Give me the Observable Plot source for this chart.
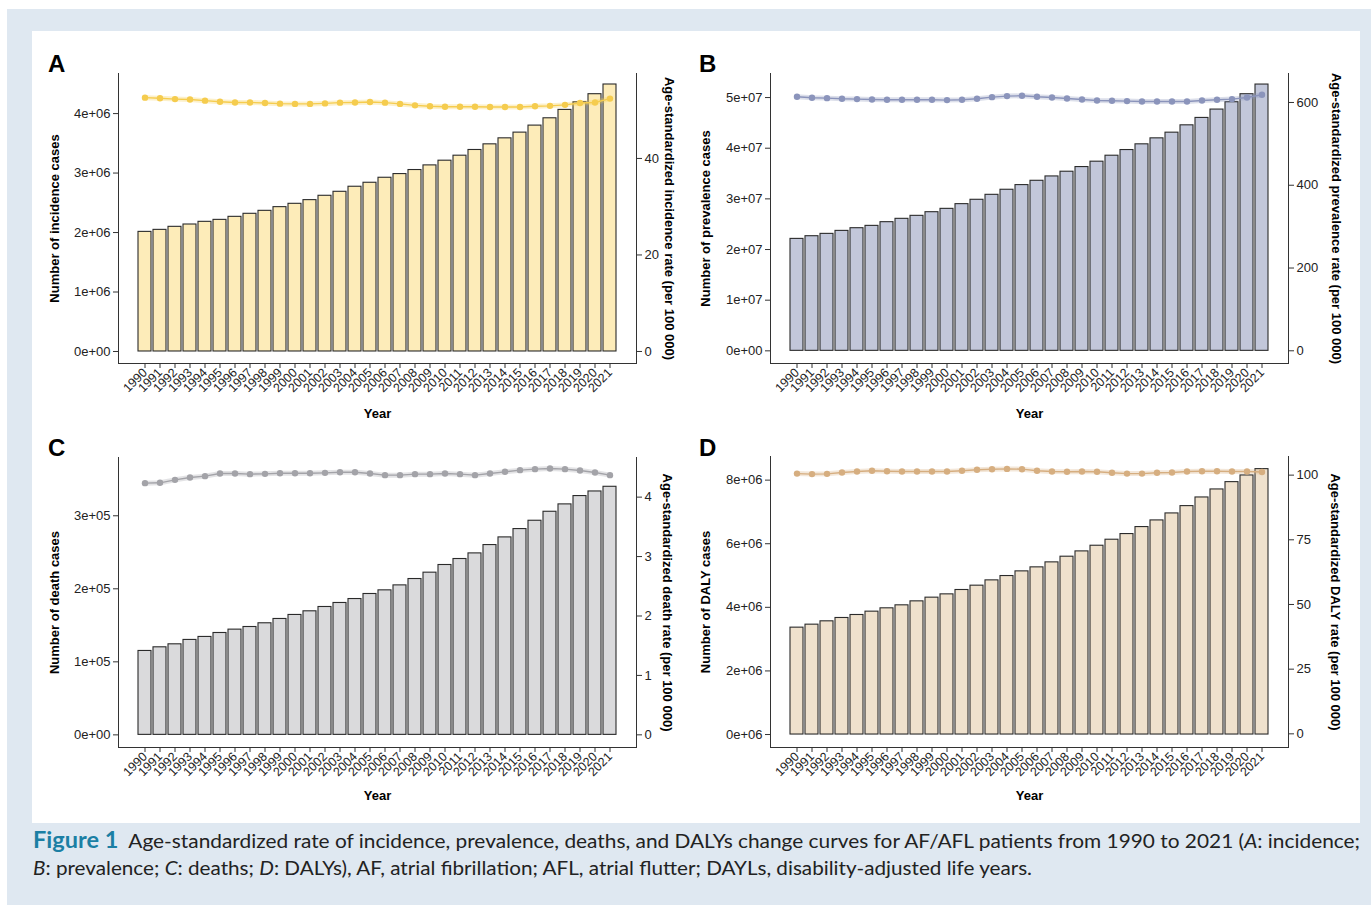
<!DOCTYPE html>
<html><head><meta charset="utf-8">
<script src="https://cdn.jsdelivr.net/npm/d3@7"></script>
<script src="https://cdn.jsdelivr.net/npm/@observablehq/plot@0.6"></script>
<style>
html,body{margin:0;padding:0;background:#fff;}
#page{position:relative;width:1371px;height:905px;background:#fff;overflow:hidden;}
#bg{position:absolute;left:7px;top:9px;width:1364px;height:896px;background:#dfe8f1;}
#panel{position:absolute;left:32px;top:31px;width:1328px;height:792px;background:#fff;}
.p{position:absolute;}
.lab{position:absolute;font:bold 24px "Liberation Sans",Arial,sans-serif;line-height:24px;color:#000;}
.cap{position:absolute;left:33px;white-space:nowrap;font:19.5px Lato,"Open Sans",sans-serif;color:#222;transform-origin:0 0;}
.cap b{color:#1b7fa4;font-size:22px;}
</style>
</head><body>
<div id="page">
  <div id="bg"></div>
  <div id="panel"></div>
  <div class="lab" style="left:48px;top:52px">A</div>
  <div class="lab" style="left:699px;top:52px">B</div>
  <div class="lab" style="left:48px;top:436px">C</div>
  <div class="lab" style="left:699px;top:436px">D</div>
  <div id="cap1" class="cap" style="top:826px"><b>Figure 1</b>&nbsp; Age-standardized rate of incidence, prevalence, deaths, and DALYs change curves for AF/AFL patients from 1990 to 2021 (<i>A</i>: incidence;</div>
  <div id="cap2" class="cap" style="top:856px"><i>B</i>: prevalence; <i>C</i>: deaths; <i>D</i>: DALYs), AF, atrial fibrillation; AFL, atrial flutter; DAYLs, disability-adjusted life years.</div>
</div>
<script>
const years = ["1990","1991","1992","1993","1994","1995","1996","1997","1998","1999","2000","2001","2002","2003","2004","2005","2006","2007","2008","2009","2010","2011","2012","2013","2014","2015","2016","2017","2018","2019","2020","2021"];

const incidenceCases = [2011000,2045000,2096000,2135000,2180000,2213000,2264000,2315000,2365000,2427000,2483000,2545000,2618000,2685000,2770000,2837000,2921000,2983000,3051000,3129000,3208000,3292000,3388000,3483000,3584000,3680000,3798000,3921000,4062000,4190000,4326000,4489000];
const incidenceRate = [52.6,52.46,52.3,52.2,51.97,51.76,51.6,51.6,51.5,51.35,51.3,51.3,51.4,51.56,51.6,51.7,51.56,51.3,51.0,50.8,50.7,50.7,50.7,50.66,50.66,50.66,50.8,50.9,51.1,51.5,51.6,52.4];

const prevalenceCases = [22100000,22630000,23090000,23680000,24210000,24670000,25400000,26060000,26650000,27370000,28030000,28960000,29820000,30800000,31800000,32720000,33570000,34430000,35360000,36280000,37340000,38520000,39640000,40770000,41950000,43070000,44520000,45980000,47630000,49080000,50660000,52570000];
const prevalenceRate = [613.7,611.3,610.5,608.9,608.1,607.3,606.5,606.5,606.5,606.5,605.7,606.5,608.9,612.9,615.4,616.2,613.7,612.1,609.7,607.3,604.9,604.1,603.3,602.4,602.4,602.4,602.4,604.9,606.5,608.1,612.1,618.6];

const deathCases = [114900,119900,124000,130000,134100,139500,144100,147700,152800,158700,164200,169200,175100,180600,186000,192900,197900,204700,213400,222100,232600,240800,248500,259900,270400,281800,293200,305500,315600,327000,333300,339700];
const deathRate = [4.235,4.241,4.291,4.331,4.353,4.398,4.398,4.387,4.392,4.403,4.403,4.403,4.409,4.42,4.42,4.398,4.37,4.37,4.387,4.387,4.398,4.387,4.37,4.398,4.426,4.454,4.471,4.482,4.471,4.448,4.415,4.37];

const dalyCases = [3361000,3455000,3560000,3665000,3759000,3864000,3969000,4063000,4188000,4304000,4408000,4545000,4681000,4848000,4984000,5131000,5257000,5414000,5592000,5759000,5937000,6126000,6304000,6524000,6733000,6953000,7183000,7455000,7707000,7937000,8147000,8346000];
const dalyRate = [100.6,100.4,100.5,101.0,101.4,101.7,101.5,101.4,101.4,101.4,101.4,101.7,102.1,102.3,102.4,102.3,101.7,101.4,101.3,101.4,101.3,100.9,100.6,100.6,100.9,101.0,101.4,101.5,101.5,101.4,101.4,101.2];

const ticksA = [0,1e6,2e6,3e6,4e6], labelsA = ["0e+00","1e+06","2e+06","3e+06","4e+06"];
const rTicksA = [0,20,40], rLabelsA = ["0","20","40"];
const ticksB = [0,1e7,2e7,3e7,4e7,5e7], labelsB = ["0e+00","1e+07","2e+07","3e+07","4e+07","5e+07"];
const rTicksB = [0,200,400,600], rLabelsB = ["0","200","400","600"];
const ticksC = [0,1e5,2e5,3e5], labelsC = ["0e+00","1e+05","2e+05","3e+05"];
const rTicksC = [0,1,2,3,4], rLabelsC = ["0","1","2","3","4"];
const ticksD = [0,2e6,4e6,6e6,8e6], labelsD = ["0e+06","2e+06","4e+06","6e+06","8e+06"];
const rTicksD = [0,25,50,75,100], rLabelsD = ["0","25","50","75","100"];

const panels = [
  {left:30, top:50, mL:88, mR:54, mT:23, mB:67, cases:incidenceCases, rate:incidenceRate,
   L:[-202000,4674000], R:[-2.49,57.6], ticks:ticksA, labels:labelsA, rTicks:rTicksA, rLabels:rLabelsA,
   fill:"#fdecb9", color:"#f5cc4e", yLabel:"Number of incidence cases", rLabel:"Age-standardized incidence rate (per 100 000)", ldx:-64, rdx:33, ydy:54},
  {left:690, top:50, mL:80, mR:62, mT:23, mB:67, cases:prevalenceCases, rate:prevalenceRate,
   L:[-2500000,54750000], R:[-30.7,670], ticks:ticksB, labels:labelsB, rTicks:rTicksB, rLabels:rLabelsB,
   fill:"#c2c7da", color:"#8b94bb", yLabel:"Number of prevalence cases", rLabel:"Age-standardized prevalence rate (per 100 000)", ldx:-65, rdx:48, ydy:54},
  {left:30, top:434, mL:88, mR:54, mT:23, mB:67, cases:deathCases, rate:deathRate,
   L:[-17300,379800], R:[-0.213,4.667], ticks:ticksC, labels:labelsC, rTicks:rTicksC, rLabels:rLabelsC,
   fill:"#dadadc", color:"#a3a3a8", yLabel:"Number of death cases", rLabel:"Age-standardized death rate (per 100 000)", ldx:-64, rdx:31, ydy:52},
  {left:690, top:434, mL:80, mR:62, mT:22, mB:67, cases:dalyCases, rate:dalyRate,
   L:[-408000,8743000], R:[-5.28,107.2], ticks:ticksD, labels:labelsD, rTicks:rTicksD, rLabels:rLabelsD,
   fill:"#efe1cd", color:"#d6ae80", yLabel:"Number of DALY cases", rLabel:"Age-standardized DALY rate (per 100 000)", ldx:-65, rdx:47, ydy:52}
];

const page = document.getElementById("page");
const font = '"Liberation Sans", Arial, sans-serif';

for (const p of panels) {
  const [L0, L1] = p.L, [R0, R1] = p.R;
  const toLeft = r => L0 + (r - R0) * (L1 - L0) / (R1 - R0);
  const rows = years.map((y, i) => ({year: y, cases: p.cases[i], rateY: toLeft(p.rate[i])}));
  const lmap = new Map(p.ticks.map((t, i) => [t, p.labels[i]]));
  const rT = p.rTicks.map(toLeft);
  const rmap = new Map(rT.map((t, i) => [t, p.rLabels[i]]));
  const chart = Plot.plot({
    width: 660, height: 380,
    marginLeft: p.mL, marginRight: p.mR, marginTop: p.mT, marginBottom: p.mB,
    style: {fontFamily: font, fontSize: "12px", color: "#222", background: "transparent", overflow: "visible"},
    x: {type: "band", domain: years, paddingInner: 0.14, paddingOuter: 0.59, axis: null},
    y: {domain: [L0, L1], axis: null},
    marks: [
      Plot.barY(rows, {x: "year", y: "cases", fill: p.fill, stroke: "#2a2a2a", strokeWidth: 1.1}),
      Plot.line(rows, {x: "year", y: "rateY", stroke: p.color, strokeWidth: 5, strokeOpacity: 0.3}),
      Plot.line(rows, {x: "year", y: "rateY", stroke: p.color, strokeWidth: 1.4}),
      Plot.dot(rows, {x: "year", y: "rateY", r: 3.2, fill: p.color}),
      Plot.frame({anchor: "left", stroke: "#333"}),
      Plot.frame({anchor: "right", stroke: "#333"}),
      Plot.frame({anchor: "bottom", stroke: "#333"}),
      Plot.axisX({tickRotate: -45, tickSize: 5, tickPadding: 2, fontSize: 12.5, label: null, stroke: "#333"}),
      Plot.axisY(p.ticks, {anchor: "left", tickSize: 5, tickPadding: 3, fontSize: 13, label: null, stroke: "#333", tickFormat: d => lmap.get(d)}),
      Plot.axisY(rT, {anchor: "right", tickSize: 5, tickPadding: 3, fontSize: 13, label: null, stroke: "#333", tickFormat: d => rmap.get(d)}),
      Plot.text([p.yLabel], {frameAnchor: "left", textAnchor: "middle", dx: p.ldx, rotate: -90, fontWeight: "bold", fontSize: 13, fill: "#000"}),
      Plot.text([p.rLabel], {frameAnchor: "right", textAnchor: "middle", dx: p.rdx, rotate: 90, fontWeight: "bold", fontSize: 13, fill: "#000"}),
      Plot.text(["Year"], {frameAnchor: "bottom", textAnchor: "middle", dy: p.ydy, fontWeight: "bold", fontSize: 13, fill: "#000"})
    ]
  });
  const div = document.createElement("div");
  div.className = "p";
  div.style.left = p.left + "px";
  div.style.top = p.top + "px";
  div.appendChild(chart);
  page.appendChild(div);
}

// fit caption lines to the reference widths
[["cap1", 1327], ["cap2", 999]].forEach(([id, w]) => {
  const el = document.getElementById(id);
  const cw = el.getBoundingClientRect().width;
  if (cw > 0) el.style.transform = `scaleX(${w / cw})`;
});
</script>
</body></html>
